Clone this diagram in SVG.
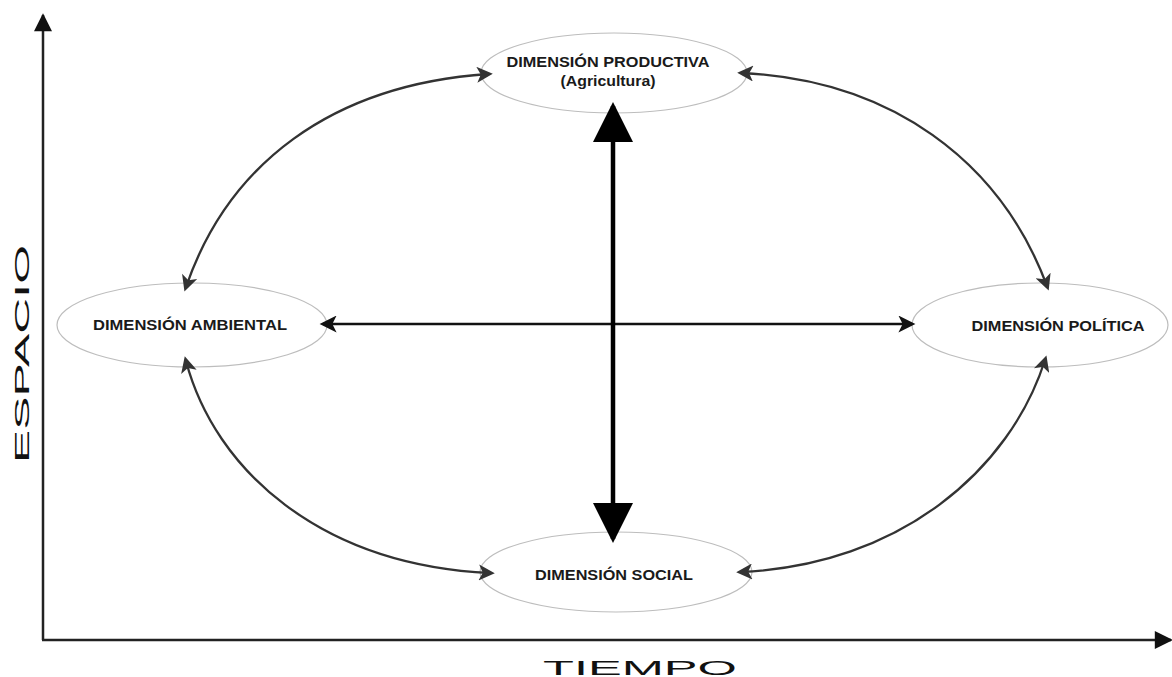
<svg xmlns="http://www.w3.org/2000/svg" width="1172" height="677" viewBox="0 0 1172 677">
<style>
.node ellipse{fill:#fff;stroke:#bdbdbd;stroke-width:1.2}
.lbl{font-family:"Liberation Sans",Arial,sans-serif;font-weight:bold;font-size:15px;fill:#1a1a1a;text-anchor:middle}
.axis-lbl{font-family:"Liberation Sans",Arial,sans-serif;font-size:21px;fill:#111;text-anchor:middle}
.curve{fill:none;stroke:#333;stroke-width:2.3}
</style>
<defs>
<marker id="ah" viewBox="0 0 10 10" refX="7" refY="5" markerWidth="21" markerHeight="16" markerUnits="userSpaceOnUse" orient="auto-start-reverse">
<path d="M0,0 L10,5 L0,10 L2.5,5 z" fill="#333"/>
</marker>
<marker id="ahH" viewBox="0 0 10 10" refX="8" refY="5" markerWidth="24" markerHeight="17" markerUnits="userSpaceOnUse" orient="auto-start-reverse">
<path d="M0,0 L10,5 L0,10 L2.5,5 z" fill="#111"/>
</marker>
<marker id="ahV" viewBox="0 0 10 10" refX="9" refY="5" markerWidth="45" markerHeight="40" markerUnits="userSpaceOnUse" orient="auto-start-reverse">
<path d="M0,0 L10,5 L0,10 z" fill="#000"/>
</marker>
<marker id="ahA" viewBox="0 0 10 10" refX="9" refY="5" markerWidth="21" markerHeight="18" markerUnits="userSpaceOnUse" orient="auto-start-reverse">
<path d="M0,0 L10,5 L0,10 z" fill="#111"/>
</marker>
</defs>
<rect width="1172" height="677" fill="#fff"/>
<g id="axes">
<line x1="43" y1="640" x2="43" y2="15" stroke="#222" stroke-width="2.5" marker-end="url(#ahA)"/>
<line x1="42" y1="640" x2="1171" y2="640" stroke="#222" stroke-width="2.5" marker-end="url(#ahA)"/>
<text class="axis-lbl" transform="translate(29,354) rotate(-90)" textLength="218" lengthAdjust="spacingAndGlyphs">ESPACIO</text>
<text class="axis-lbl" x="640" y="675" textLength="194" lengthAdjust="spacingAndGlyphs">TIEMPO</text>
</g>
<g id="node-productiva" class="node">
<ellipse cx="614" cy="73" rx="133" ry="40"/>
<text class="lbl" x="608" y="67" textLength="203" lengthAdjust="spacingAndGlyphs">DIMENSIÓN PRODUCTIVA</text>
<text class="lbl" x="608" y="86" textLength="95" lengthAdjust="spacingAndGlyphs">(Agricultura)</text>
</g>
<g id="node-ambiental" class="node">
<ellipse cx="192" cy="325" rx="135" ry="42"/>
<text class="lbl" x="190" y="330" textLength="194" lengthAdjust="spacingAndGlyphs">DIMENSIÓN AMBIENTAL</text>
</g>
<g id="node-politica" class="node">
<ellipse cx="1040" cy="325" rx="128" ry="42"/>
<text class="lbl" x="1058" y="331" textLength="173" lengthAdjust="spacingAndGlyphs">DIMENSIÓN POLÍTICA</text>
</g>
<g id="node-social" class="node">
<ellipse cx="616" cy="572" rx="136" ry="40"/>
<text class="lbl" x="614" y="580" textLength="158" lengthAdjust="spacingAndGlyphs">DIMENSIÓN SOCIAL</text>
</g>
<g id="connectors">
<path class="curve" d="M186,287 C228,165 330,85 488,74" marker-start="url(#ah)" marker-end="url(#ah)"/>
<path class="curve" d="M742,73 C890,80 1000,160 1047,286" marker-start="url(#ah)" marker-end="url(#ah)"/>
<path class="curve" d="M186,361 C215,470 320,565 490,573" marker-start="url(#ah)" marker-end="url(#ah)"/>
<path class="curve" d="M741,572 C900,565 1010,470 1045,360" marker-start="url(#ah)" marker-end="url(#ah)"/>
<line x1="323" y1="324" x2="912" y2="324" stroke="#111" stroke-width="2.5" marker-start="url(#ahH)" marker-end="url(#ahH)"/>
<line x1="613" y1="106" x2="613" y2="539" stroke="#000" stroke-width="4.5" marker-start="url(#ahV)" marker-end="url(#ahV)"/>
</g>
</svg>
